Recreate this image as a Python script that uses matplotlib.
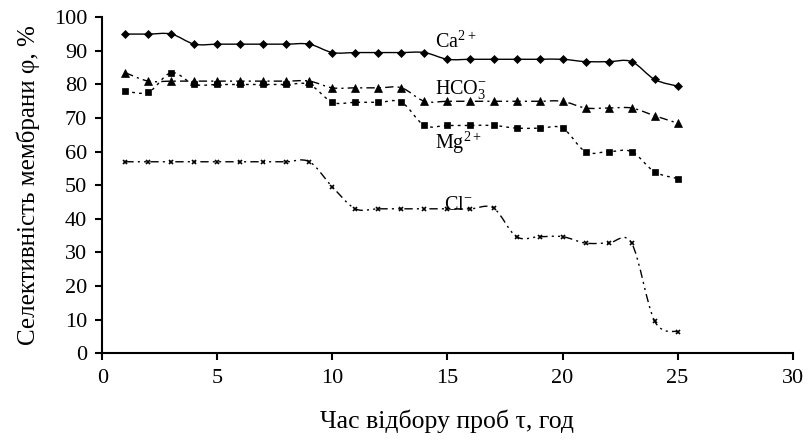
import numpy as np
import matplotlib
matplotlib.use("Agg")
import matplotlib.pyplot as plt
from matplotlib.path import Path
from matplotlib.patches import PathPatch

plt.rcParams['font.family'] = ['Liberation Serif', 'DejaVu Serif']
plt.rcParams['mathtext.fontset'] = 'custom'
plt.rcParams['mathtext.rm'] = 'Liberation Serif'

# sampling time, h
t = list(range(1, 26))

ca = [95, 95, 95, 92, 92, 92, 92, 92, 92, 89.5, 89.5, 89.5, 89.5, 89.5,
      87.5, 87.5, 87.5, 87.5, 87.5, 87.5, 86.8, 86.8, 86.8, 81.5, 79.5]
hco3 = [83.5, 81, 81, 81, 81, 81, 81, 81, 81, 79, 79, 79, 79, 75,
        75, 75, 75, 75, 75, 75, 73, 73, 73, 70.7, 68.5]
mg = [78, 77.7, 83.5, 80, 80, 80, 80, 80, 80, 74.7, 74.7, 74.7, 74.7, 67.8,
      67.8, 67.8, 67.8, 67, 67, 67, 60, 60, 60, 54, 52]
cl = [57, 57, 57, 57, 57, 57, 57, 57, 57, 49.5, 43, 43, 43, 43,
      43, 43, 43.2, 34.7, 34.7, 34.7, 32.8, 32.8, 32.8, 9.6, 6.4]

series = [
    (ca, '-', 'D', 4.5, r'Ca$^{2+}$', (14.45, 91.0)),
    (hco3, (0, (6, 3, 1.5, 3)), '^', 5.5, r'HCO$_3^{\mathregular{-}}$', (14.45, 76.9)),
    (mg, (0, (2, 3)), 's', 4.0, r'Mg$^{2+}$', (14.45, 61.0)),
    (cl, (0, (6, 3, 1.5, 3, 1.5, 3)), 'x', 3.5, r'Cl$^{-}$', (14.85, 42.6)),
]


def smooth_path(x, y):
    # Excel-style smoothed line: Catmull-Rom segments as cubic Bezier
    x = np.asarray(x, float)
    y = np.asarray(y, float)
    n = len(x)
    verts = [(x[0], y[0])]
    codes = [Path.MOVETO]
    for i in range(n - 1):
        i0 = max(i - 1, 0)
        i3 = min(i + 2, n - 1)
        c1 = (x[i] + (x[i + 1] - x[i0]) / 6, y[i] + (y[i + 1] - y[i0]) / 6)
        c2 = (x[i + 1] - (x[i3] - x[i]) / 6, y[i + 1] - (y[i3] - y[i]) / 6)
        verts += [c1, c2, (x[i + 1], y[i + 1])]
        codes += [Path.CURVE4] * 3
    return Path(verts, codes)


fig = plt.figure(figsize=(8.1, 4.43), dpi=100)
ax = fig.add_axes([0.1263, 0.2025, 0.8523, 0.7585])

for vals, ls, mk, ms, name, pos in series:
    patch = PathPatch(smooth_path(t, vals), facecolor='none', edgecolor='black',
                      linestyle=ls, linewidth=1.0)
    ax.add_patch(patch)
    ax.plot(t, vals, linestyle='none', marker=mk, markersize=ms, color='black',
            markeredgewidth=1.2 if mk == 'x' else 0.5)
    ax.text(pos[0], pos[1], name, fontsize=14.5, ha='left', va='baseline')

ax.set_xlim(0, 30)
ax.set_ylim(0, 100)
ax.set_xticks(range(0, 31, 5))
ax.set_yticks(range(0, 101, 10))
for s in ['top', 'right']:
    ax.spines[s].set_visible(False)
for s in ['left', 'bottom']:
    ax.spines[s].set_linewidth(1.5)
ax.tick_params(direction='out', length=5, width=1.5, labelsize=16, pad=6)

ax.set_xlabel("Час відбору проб τ, год", fontsize=18.5, labelpad=16)
ax.set_ylabel("Селективність мембрани φ, %", fontsize=18, labelpad=10)

fig.savefig("out.png", dpi=100)
